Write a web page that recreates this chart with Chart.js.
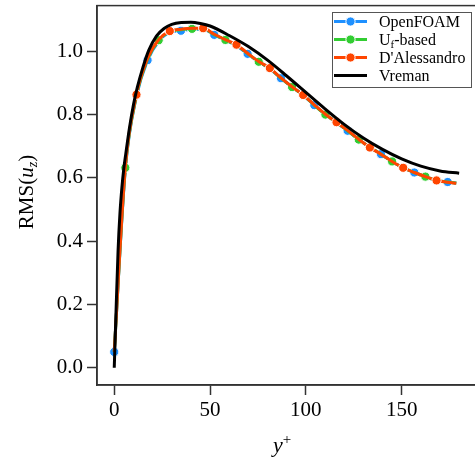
<!DOCTYPE html>
<html>
<head>
<meta charset="utf-8">
<script src="https://cdn.jsdelivr.net/npm/chart.js@4"></script>
<style>
  html, body { margin: 0; padding: 0; background: #fff; overflow: hidden; }
  #wrap { width: 482px; height: 463px; }
</style>
</head>
<body>
<div id="wrap"><canvas id="rmsChart"></canvas></div>
<script>
// y+ positions of the sampled profile (markers alternate between series)
const yPlusMarks = [0, 5.8, 11.6, 17.4, 23.2, 29, 34.8, 40.6, 46.4, 52.2, 58, 63.8, 69.6, 75.4, 81.2, 87,
  92.8, 98.6, 104.4, 110.2, 116, 121.8, 127.6, 133.4, 139.2, 145, 150.8, 156.6, 162.4, 168.2, 174, 178.5];

const openFoam = [0.05, 0.628, 0.858, 0.972, 1.032, 1.060, 1.065, 1.070, 1.070, 1.052, 1.035, 1.018, 0.992, 0.967,
  0.945, 0.915, 0.888, 0.861, 0.830, 0.801, 0.775, 0.749, 0.721, 0.697, 0.675, 0.652, 0.632, 0.617, 0.604, 0.592, 0.587, 0.584];
const ufBased = [0.05, 0.632, 0.860, 0.975, 1.035, 1.062, 1.068, 1.071, 1.071, 1.053, 1.036, 1.019, 0.993, 0.967,
  0.946, 0.915, 0.887, 0.862, 0.830, 0.800, 0.776, 0.749, 0.721, 0.697, 0.675, 0.652, 0.632, 0.617, 0.604, 0.592, 0.587, 0.584];
const dAlessandro = [0.05, 0.635, 0.863, 0.978, 1.037, 1.064, 1.070, 1.073, 1.073, 1.054, 1.037, 1.021, 0.994, 0.968,
  0.947, 0.916, 0.888, 0.862, 0.831, 0.801, 0.776, 0.750, 0.722, 0.696, 0.675, 0.652, 0.632, 0.617, 0.604, 0.592, 0.586, 0.583];

const yPlusVreman = [0, 1, 2, 3, 4, 5, 6, 8, 10, 12, 15, 18, 22, 26, 30, 35, 40, 45, 50, 60, 70, 80, 90, 100,
  110, 120, 130, 140, 150, 160, 170, 180];
const vreman = [0, 0.19, 0.37, 0.49, 0.57, 0.63, 0.675, 0.76, 0.83, 0.885, 0.95, 1.003, 1.048, 1.072, 1.085, 1.091,
  1.092, 1.088, 1.08, 1.05, 1.015, 0.972, 0.922, 0.87, 0.818, 0.769, 0.726, 0.69, 0.66, 0.637, 0.622, 0.615];

const xTicks = [0, 50, 100, 150];
const yTicks = [0, 0.2, 0.4, 0.6, 0.8, 1.0];

const serif = "'Liberation Serif', 'DejaVu Serif', serif";
const axisColor = "#333";
const markedCount = 31;

function toPoints(xs, ys) {
  return xs.map((x, i) => ({ x, y: ys[i] }));
}

function markerRadius(offset) {
  return (ctx) => (ctx.dataIndex < markedCount && ctx.dataIndex % 3 === offset ? 4.6 : 0);
}

function markedSeries(label, values, color, offset, order) {
  return {
    label,
    data: toPoints(yPlusMarks, values),
    borderColor: color,
    backgroundColor: color,
    borderWidth: 3,
    pointRadius: markerRadius(offset),
    pointHoverRadius: 0,
    pointBorderColor: "#fff",
    pointBorderWidth: 1,
    cubicInterpolationMode: "monotone",
    order,
  };
}

// draws mixed-font text pieces left to right from (0,0)
function drawPieces(ctx, pieces, startX) {
  let x = startX;
  pieces.forEach((p) => {
    ctx.font = p.font;
    ctx.fillText(p.text, x, p.dy || 0);
    x += ctx.measureText(p.text).width;
  });
}

function piecesWidth(ctx, pieces) {
  return pieces.reduce((w, p) => {
    ctx.font = p.font;
    return w + ctx.measureText(p.text).width;
  }, 0);
}

function noPadding(scale) {
  scale.paddingTop = 0;
  scale.paddingBottom = 0;
  scale.paddingLeft = 0;
  scale.paddingRight = 0;
}

const decorations = {
  id: "decorations",
  afterDraw(chart) {
    const { ctx, chartArea } = chart;
    ctx.save();

    // full frame
    ctx.strokeStyle = axisColor;
    ctx.lineWidth = 1.5;
    ctx.strokeRect(chartArea.left, chartArea.top, chartArea.right - chartArea.left, chartArea.bottom - chartArea.top);

    ctx.fillStyle = "#000";
    ctx.textBaseline = "alphabetic";

    // y axis title: RMS(u_z)
    const yTitle = [
      { text: "RMS(", font: `21px ${serif}` },
      { text: "u", font: `italic 21px ${serif}` },
      { text: "z", font: `italic 14px ${serif}`, dy: 4 },
      { text: ")", font: `21px ${serif}` },
    ];
    ctx.save();
    ctx.translate(33, 192);
    ctx.rotate(-Math.PI / 2);
    drawPieces(ctx, yTitle, -piecesWidth(ctx, yTitle) / 2);
    ctx.restore();

    // x axis title: y+
    const xTitle = [
      { text: "y", font: `italic 22px ${serif}` },
      { text: "+", font: `15px ${serif}`, dy: -8 },
    ];
    ctx.save();
    ctx.translate(284, 452);
    drawPieces(ctx, xTitle, -piecesWidth(ctx, xTitle) / 2 - 2);
    ctx.restore();

    // legend
    const box = { x: 332.5, y: 12.5, w: 139, h: 75 };
    ctx.fillStyle = "#fff";
    ctx.fillRect(box.x, box.y, box.w, box.h);
    ctx.strokeStyle = "#555";
    ctx.lineWidth = 1;
    ctx.strokeRect(box.x, box.y, box.w, box.h);

    const rows = [
      { color: "#1e90ff", marker: true, pieces: [{ text: "OpenFOAM", font: `16px ${serif}` }] },
      {
        color: "#32cd32",
        marker: true,
        pieces: [
          { text: "U", font: `16px ${serif}` },
          { text: "f", font: `11px ${serif}`, dy: 3 },
          { text: "-based", font: `16px ${serif}` },
        ],
      },
      { color: "#ff4500", marker: true, pieces: [{ text: "D'Alessandro", font: `16px ${serif}` }] },
      { color: "#000", marker: false, pieces: [{ text: "Vreman", font: `16px ${serif}` }] },
    ];
    rows.forEach((row, i) => {
      const cy = 21.5 + i * 18;
      ctx.strokeStyle = row.color;
      ctx.lineWidth = 3;
      ctx.beginPath();
      ctx.moveTo(334, cy);
      ctx.lineTo(367, cy);
      ctx.stroke();
      if (row.marker) {
        ctx.beginPath();
        ctx.arc(350.5, cy, 4.6, 0, Math.PI * 2);
        ctx.fillStyle = row.color;
        ctx.fill();
        ctx.strokeStyle = "#fff";
        ctx.lineWidth = 1;
        ctx.stroke();
      }
      ctx.fillStyle = "#000";
      ctx.save();
      ctx.translate(0, cy + 5.5);
      drawPieces(ctx, row.pieces, 379);
      ctx.restore();
    });

    ctx.restore();
  },
};

Chart.defaults.font.family = serif;

const rmsChart = new Chart(document.getElementById("rmsChart"), {
  type: "line",
  data: {
    datasets: [
      {
        label: "Vreman",
        data: toPoints(yPlusVreman, vreman),
        borderColor: "#000",
        backgroundColor: "#000",
        borderWidth: 3,
        pointRadius: 0,
        pointHoverRadius: 0,
        cubicInterpolationMode: "monotone",
        order: 0,
      },
      markedSeries("D'Alessandro", dAlessandro, "#ff4500", 2, 1),
      markedSeries("Uf-based", ufBased, "#32cd32", 1, 2),
      markedSeries("OpenFOAM", openFoam, "#1e90ff", 0, 3),
    ],
  },
  options: {
    responsive: true,
    maintainAspectRatio: false,
    devicePixelRatio: 1,
    animation: false,
    events: [],
    layout: { padding: { top: 5, right: 5, left: 0, bottom: 0 } },
    plugins: {
      legend: { display: false },
      tooltip: { enabled: false },
    },
    scales: {
      x: {
        type: "linear",
        min: -9,
        max: 189,
        afterBuildTicks: (scale) => {
          scale.ticks = xTicks.map((value) => ({ value }));
        },
        afterFit: (scale) => {
          scale.height = 78;
          noPadding(scale);
        },
        ticks: {
          color: "#000",
          font: { size: 21 },
          padding: 3,
          maxRotation: 0,
          callback: (v) => String(v),
        },
        grid: {
          drawOnChartArea: false,
          drawTicks: true,
          tickLength: 10,
          tickWidth: 1.5,
          tickColor: axisColor,
        },
        border: { display: true, color: axisColor, width: 1.5 },
      },
      y: {
        type: "linear",
        min: -0.0545,
        max: 1.1445,
        afterBuildTicks: (scale) => {
          scale.ticks = yTicks.map((value) => ({ value }));
        },
        afterFit: (scale) => {
          scale.width = 97;
          noPadding(scale);
        },
        ticks: {
          color: "#000",
          font: { size: 21 },
          padding: 4,
          callback: (v) => Number(v).toFixed(1),
        },
        grid: {
          drawOnChartArea: false,
          drawTicks: true,
          tickLength: 10,
          tickWidth: 1.5,
          tickColor: axisColor,
        },
        border: { display: true, color: axisColor, width: 1.5 },
      },
    },
  },
  plugins: [decorations],
});
</script>
</body>
</html>
